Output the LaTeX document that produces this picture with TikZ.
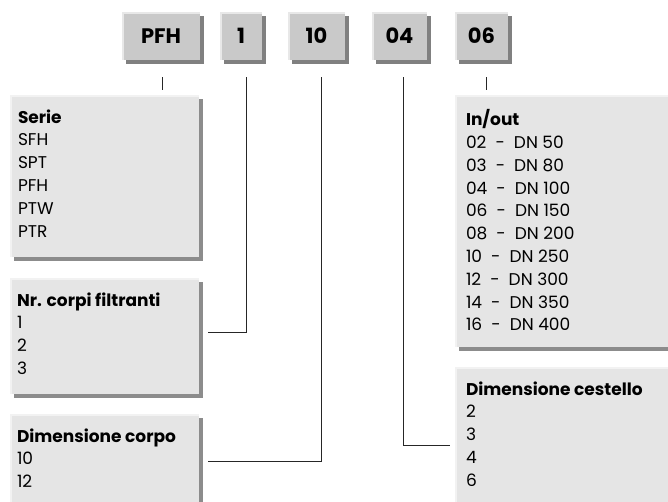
\documentclass[tikz,border=0pt]{standalone}
\usepackage{fontspec}
\setmainfont{Poppins}
\usetikzlibrary{calc}
\usetikzlibrary{shadows}
\colorlet{codefill}{black!21}
\colorlet{codebevel}{black!9}
\colorlet{codeshade}{black!50}
\colorlet{listfill}{black!10}
\colorlet{listbevel}{black!5}
\colorlet{listshade}{black!45}
\tikzstyle{codebox}=[fill=codefill,inner sep=0,minimum height=48,
    font=\bfseries\fontsize{21}{21}\selectfont,
    drop shadow={shadow xshift=4pt,shadow yshift=-4pt,fill=codeshade,opacity=1}]
\tikzstyle{listbox}=[fill=listfill,inner sep=0,
    drop shadow={shadow xshift=4pt,shadow yshift=-4pt,fill=listshade,opacity=1}]
\tikzstyle{listtext}=[anchor=north west,inner sep=0,align=left,
    font=\fontsize{17}{22.8}\selectfont]
\tikzstyle{link}=[line width=0.9,black!85]
\def\bevel#1#2{\draw[#2,line width=2] ($(#1.south west)+(1,0)$) |- ($(#1.north east)+(0,1)$)}

\begin{document}
\begin{tikzpicture}[x=1pt,y=-1pt]
        \useasboundingbox (0,0) rectangle (668,502);

        % code boxes
        \node[codebox,minimum width=78] (pfh) at (161,36) {PFH};
        \node[codebox,minimum width=42] (one) at (241,36) {1};
        \node[codebox,minimum width=57] (ten) at (316.5,36) {10};
        \node[codebox,minimum width=55] (four) at (399.5,36) {04};
        \node[codebox,minimum width=53] (six) at (481.5,36) {06};
        \bevel{pfh}{codebevel};
        \bevel{one}{codebevel};
        \bevel{ten}{codebevel};
        \bevel{four}{codebevel};
        \bevel{six}{codebevel};

        % list boxes
        \node[listbox,minimum width=189,minimum height=162] (serie) at (104.5,176) {};
        \node[listbox,minimum width=189,minimum height=116] (corpi) at (104.5,336) {};
        \node[listbox,minimum width=189,minimum height=126] (dcorpo) at (104.5,477) {};
        \node[listbox,minimum width=245,minimum height=252] (inout) at (577.5,221) {};
        \node[listbox,minimum width=245,minimum height=173] (cestello) at (577.5,453.5) {};
        \bevel{serie}{listbevel};
        \bevel{corpi}{listbevel};
        \bevel{dcorpo}{listbevel};
        \bevel{inout}{listbevel};
        \bevel{cestello}{listbevel};

        \node[listtext] (serietext) at ($(serie.north west)+(8,14.5)$)
            {\textbf{Serie}\\SFH\\SPT\\PFH\\PTW\\PTR};
        \node[listtext] (corpitext) at ($(corpi.north west)+(7,14.5)$)
            {\textbf{Nr. corpi filtranti}\\1\\2\\3};
        \node[listtext] (dcorpotext) at ($(dcorpo.north west)+(7,14.5)$)
            {\textbf{Dimensione corpo}\\10\\12};
        \node[listtext] (inouttext) at ($(inout.north west)+(11,14.5)$)
            {\textbf{In/out}\\
             02 \ - \ DN 50\\03 \ - \ DN 80\\04 \ - \ DN 100\\
             06 \ - \ DN 150\\08 \ - \ DN 200\\10 \ - \ DN 250\\
             12 \ - \ DN 300\\14 \ - \ DN 350\\16 \ - \ DN 400};
        \node[listtext] (cestellotext) at ($(cestello.north west)+(11,14.5)$)
            {\textbf{Dimensione cestello}\\2\\3\\4\\6};

        % connectors
        \draw[link] ($(pfh.south)+(1,17)$) -- ++(0,13);
        \draw[link] ($(six.south)+(5,17)$) -- ++(0,13);
        \draw[link] ($(one.south)+(5,17)$) |- ($(corpi.east)+(9,-4)$);
        \draw[link] ($(ten.south)+(4.5,17)$) |- ($(dcorpo.east)+(9,-16)$);
        \draw[link] ($(four.south)+(4,17)$) |- ($(cestello.west)+(-5,-8.5)$);
    \end{tikzpicture}
\end{document}
